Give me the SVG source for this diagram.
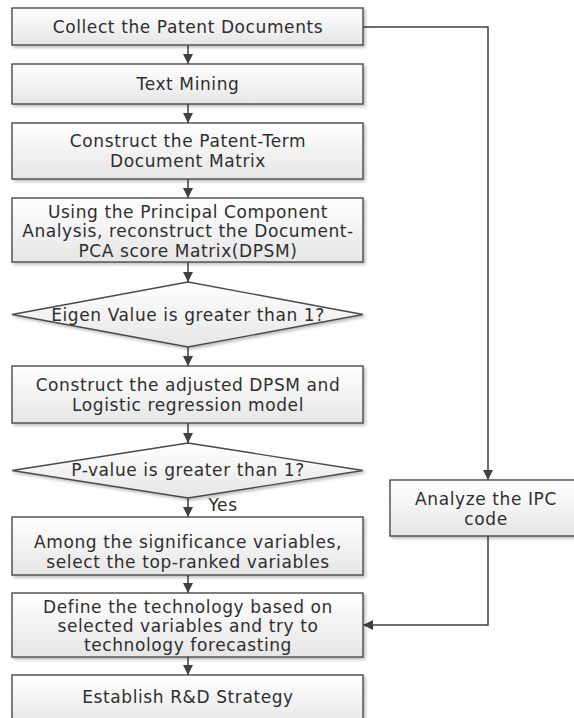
<svg xmlns="http://www.w3.org/2000/svg" width="574" height="718" viewBox="0 0 574 718">
<style>
.box{fill:url(#g);stroke:#4a4a4a;stroke-width:1.4;filter:url(#sh)}
.t{font-family:"DejaVu Sans",sans-serif;font-size:17px;letter-spacing:0.6px;fill:#2e2e2e;text-anchor:middle}
.c{fill:none;stroke:#404040;stroke-width:1.5}
</style>
<defs>
<linearGradient id="g" x1="0" y1="0" x2="0" y2="1">
<stop offset="0" stop-color="#ffffff"/>
<stop offset="1" stop-color="#e6e6e6"/>
</linearGradient>
<filter id="sh" x="-5%" y="-10%" width="115%" height="130%">
<feDropShadow dx="2" dy="2" stdDeviation="1.5" flood-color="#000" flood-opacity="0.25"/>
</filter>
<marker id="a" markerUnits="userSpaceOnUse" markerWidth="12" markerHeight="10" refX="10" refY="5" orient="auto">
<path d="M0,0 L10,5 L0,10 z" fill="#404040"/>
</marker>
</defs>
<rect width="574" height="718" fill="#fff"/>
<g id="connectors">
<line class="c" x1="188" y1="45" x2="188" y2="64" marker-end="url(#a)"/>
<line class="c" x1="188" y1="104" x2="188" y2="123" marker-end="url(#a)"/>
<line class="c" x1="188" y1="179" x2="188" y2="198" marker-end="url(#a)"/>
<line class="c" x1="188" y1="262" x2="188" y2="282" marker-end="url(#a)"/>
<line class="c" x1="188" y1="347" x2="188" y2="366" marker-end="url(#a)"/>
<line class="c" x1="188" y1="423" x2="188" y2="443" marker-end="url(#a)"/>
<line class="c" x1="188" y1="498" x2="188" y2="517" marker-end="url(#a)"/>
<line class="c" x1="188" y1="575" x2="188" y2="593" marker-end="url(#a)"/>
<line class="c" x1="188" y1="657" x2="188" y2="675" marker-end="url(#a)"/>
<polyline class="c" points="363,27 488,27 488,480" marker-end="url(#a)"/>
<polyline class="c" points="488,536 488,625 363,625" marker-end="url(#a)"/>
<text class="t" x="223" y="511">Yes</text>
</g>
<g id="n1"><rect class="box" x="12" y="8" width="351" height="37"/><text class="t" x="188" y="33">Collect the Patent Documents</text></g>
<g id="n2"><rect class="box" x="12" y="64" width="351" height="40"/><text class="t" x="188" y="90">Text Mining</text></g>
<g id="n3"><rect class="box" x="12" y="123" width="351" height="56"/><text class="t" x="188" y="147">Construct the Patent-Term</text><text class="t" x="188" y="167">Document Matrix</text></g>
<g id="n4"><rect class="box" x="12" y="198" width="351" height="64"/><text class="t" x="188" y="217.5">Using the Principal Component</text><text class="t" x="188" y="237">Analysis, reconstruct the Document-</text><text class="t" x="188" y="256.5">PCA score Matrix(DPSM)</text></g>
<g id="d1"><polygon class="box" points="188,282 363,314.5 188,347 12,314.5"/><text class="t" x="188" y="321">Eigen Value is greater than 1?</text></g>
<g id="n5"><rect class="box" x="12" y="366" width="351" height="57"/><text class="t" x="188" y="391">Construct the adjusted DPSM and</text><text class="t" x="188" y="411">Logistic regression model</text></g>
<g id="d2"><polygon class="box" points="188,443 363,470.5 188,498 12,470.5"/><text class="t" x="188" y="476">P-value is greater than 1?</text></g>
<g id="n6"><rect class="box" x="12" y="517" width="351" height="58"/><text class="t" x="188" y="547.5">Among the significance variables,</text><text class="t" x="188" y="567.5">select the top-ranked variables</text></g>
<g id="n7"><rect class="box" x="12" y="593" width="351" height="64"/><text class="t" x="188" y="612.5">Define the technology based on</text><text class="t" x="188" y="631.5">selected variables and try to</text><text class="t" x="188" y="650.5">technology forecasting</text></g>
<g id="n8"><rect class="box" x="12" y="675" width="351" height="50"/><text class="t" x="188" y="703">Establish R&amp;D Strategy</text></g>
<g id="n9"><rect class="box" x="390" y="480" width="196" height="56"/><text class="t" x="486" y="505">Analyze the IPC</text><text class="t" x="486" y="524.5">code</text></g>
</svg>
